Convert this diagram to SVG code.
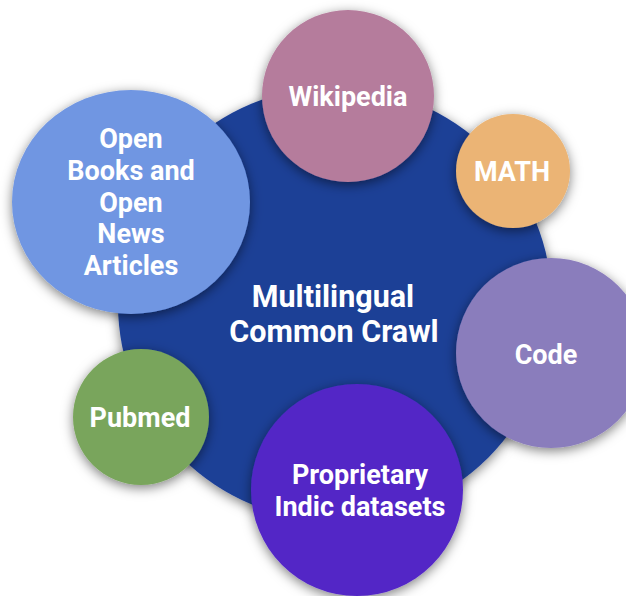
<svg xmlns="http://www.w3.org/2000/svg" width="626" height="596" viewBox="0 0 626 596">
  <defs>
    <filter id="sh" x="-30%" y="-30%" width="160%" height="160%">
      <feDropShadow dx="0" dy="3" stdDeviation="6" flood-color="#000" flood-opacity="0.5"/>
    </filter>
  </defs>
  <style>
    .c { filter: url(#sh); }
    .t { font-family: Roboto, "Liberation Sans", sans-serif; font-weight: 700; font-size: 27px; fill: #fff; text-anchor: middle; }
    .big { font-size: 30.5px; }
  </style>
  <rect width="626" height="596" fill="#fff"/>
  <g id="main">
    <circle class="c" cx="335" cy="304" r="217" fill="#1c3f96"/>
    <text class="t big" x="333" y="307">Multilingual</text>
    <text class="t big" x="334" y="342">Common Crawl</text>
  </g>
  <g id="openbooks">
    <ellipse class="c" cx="131" cy="202" rx="119" ry="112" fill="#7096e2"/>
    <text class="t" x="131" y="148">Open</text>
    <text class="t" x="131" y="180">Books and</text>
    <text class="t" x="131" y="212">Open</text>
    <text class="t" x="131" y="243">News</text>
    <text class="t" x="131" y="275">Articles</text>
  </g>
  <g id="wikipedia">
    <circle class="c" cx="348" cy="96" r="86" fill="#b57b9c"/>
    <text class="t" x="348" y="106">Wikipedia</text>
  </g>
  <g id="math">
    <circle class="c" cx="513" cy="171" r="57" fill="#ebb474"/>
    <text class="t" x="512" y="181">MATH</text>
  </g>
  <g id="code">
    <circle class="c" cx="551" cy="353" r="95" fill="#8a7dbc"/>
    <text class="t" x="546" y="364">Code</text>
  </g>
  <g id="pubmed">
    <circle class="c" cx="141" cy="417" r="68" fill="#79a55c"/>
    <text class="t" x="140" y="427">Pubmed</text>
  </g>
  <g id="proprietary">
    <circle class="c" cx="357" cy="490" r="106" fill="#5327c6"/>
    <text class="t" x="360" y="484">Proprietary</text>
    <text class="t" x="360" y="516">Indic datasets</text>
  </g>
  <g id="connectors"/>
</svg>
